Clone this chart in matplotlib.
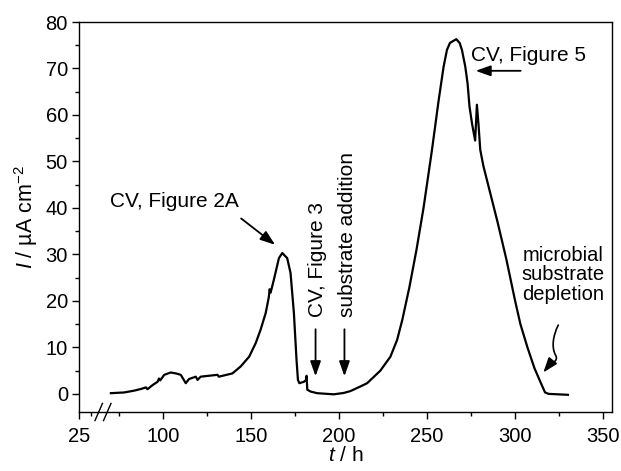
import matplotlib
matplotlib.use("Agg")
import matplotlib.pyplot as plt
from matplotlib.patches import FancyArrowPatch
from matplotlib.path import Path

plt.rcParams["font.family"] = ["Liberation Sans", "DejaVu Sans"]
plt.rcParams["mathtext.fontset"] = "custom"
plt.rcParams["mathtext.rm"] = "Liberation Sans"
plt.rcParams["mathtext.it"] = "Liberation Sans:italic"

# current density vs time
t_h = [70.5, 78, 83.8, 88, 90.4, 91.3, 94.2, 97, 97.8, 98.5, 100.8, 104.5, 107.4,
       110.2, 113, 114.9, 118.7, 119.7, 121.5, 131, 131.8, 139.5, 144.2, 149,
       152.7, 155.5, 158.4, 160.2, 160.6, 161.2, 163, 165.9, 167.8, 170.6, 172.5,
       174.4, 175.9, 176.7, 177.5, 180.1, 181.3, 181.6, 182, 183.9, 187.6, 197,
       202.7, 206.5, 212.2, 216, 223.5, 229.2, 233, 236, 240, 244, 248, 252.8,
       256.6, 259.4, 261.3, 263, 266.6, 268.5, 269.8, 271.7, 273, 274.1, 275.6,
       277.3, 278.3, 279.2, 280.2, 282, 286, 290, 295, 300, 303, 307, 311, 315,
       317, 319, 330]
current = [0.15, 0.3, 0.7, 1.1, 1.4, 1.0, 1.9, 2.6, 3.3, 2.9, 4.1, 4.6, 4.4,
           4.1, 2.3, 3.2, 3.7, 3.0, 3.7, 4.1, 3.7, 4.4, 5.9, 8.0,
           10.9, 13.8, 17.4, 20.9, 22.5, 21.8, 24.5, 29.2, 30.3, 29.2, 26.0,
           17.4, 7.3, 3.0, 2.3, 2.6, 3.0, 3.9, 0.9, 0.5, 0.15, -0.1,
           0.2, 0.6, 1.6, 2.3, 5.0, 8.0, 11.6, 16, 23, 31, 40, 52.5,
           63.2, 70.4, 74, 75.5, 76.3, 75.5, 74, 70.4, 66.8, 61.8, 58,
           54.5, 62.2, 58, 52.5, 49, 43, 37, 29, 20, 15, 10, 5.5, 2,
           0.3, 0.0, -0.2]

# broken axis: the left end is labelled 25
x_ticks = [52.4, 100, 150, 200, 250, 300, 350]
x_labels = ["25", "100", "150", "200", "250", "300", "350"]
x_minor = [59.2, 75, 125, 175, 225, 275, 325]
y_ticks = [0, 10, 20, 30, 40, 50, 60, 70, 80]

fig = plt.figure(figsize=(6.21, 4.71), dpi=100)
ax = fig.add_axes([79 / 621, 59 / 471, 533 / 621, 390 / 471])

ax.plot(t_h, current, color="black", lw=1.6)

ax.set_xlim(52.4, 355)
ax.set_ylim(-3.9, 80)
ax.set_xticks(x_ticks)
ax.set_xticklabels(x_labels)
ax.set_xticks(x_minor, minor=True)
ax.set_yticks(y_ticks)
ax.set_yticks(range(5, 80, 10), minor=True)
ax.tick_params(which="both", direction="out", labelsize=14.5, width=1, top=False, right=False)
ax.tick_params(which="major", length=5, pad=3)
ax.tick_params(which="minor", length=3)
ax.tick_params(axis="x", which="major", pad=6)
for s in ax.spines.values():
    s.set_linewidth(1)

ax.set_xlabel("$t$ / h", fontsize=15, labelpad=0)
ax.set_ylabel("$I$ / µA cm$^{-2}$", fontsize=15.5, labelpad=4)

# axis break marks
for xs in (0.030, 0.046):
    ax.plot([xs, xs + 0.014], [-0.022, 0.022], transform=ax.transAxes,
            color="black", lw=1, clip_on=False)

head = "-|>,head_length=0.9,head_width=0.32"
arrow_kw = dict(arrowstyle=head, color="black", lw=1.3)
fs = 15

ax.annotate("", xy=(165, 31.7), xytext=(143.2, 38.1), arrowprops=arrow_kw)
ax.text(70.0, 41.4, "CV, Figure 2A", fontsize=fs, ha="left", va="center")

ax.annotate("", xy=(186.7, 3.2), xytext=(186.7, 14.5), arrowprops=arrow_kw)
ax.text(187.8, 16.6, "CV, Figure 3", fontsize=fs, rotation=90, ha="center", va="bottom")

ax.annotate("", xy=(203.1, 3.2), xytext=(203.1, 14.5), arrowprops=arrow_kw)
ax.text(204.8, 16.6, "substrate addition", fontsize=fs, rotation=90, ha="center", va="bottom")

ax.annotate("", xy=(276, 69.5), xytext=(304.7, 69.5), arrowprops=arrow_kw)
ax.text(274.9, 72.9, "CV, Figure 5", fontsize=fs, ha="left", va="center")

ax.text(327, 19.3, "microbial\nsubstrate\ndepletion", fontsize=14.5, ha="center",
        va="bottom", multialignment="center", linespacing=1.05)

# wavy arrow to the depletion point
squiggle = Path([(324.5, 14.8), (321.5, 12.5), (320.5, 10.0), (323.0, 8.3),
                 (325.0, 7.0), (320.0, 6.5), (316.0, 4.6)],
                [Path.MOVETO, Path.CURVE4, Path.CURVE4, Path.CURVE4,
                 Path.CURVE4, Path.CURVE4, Path.CURVE4])
ax.add_patch(FancyArrowPatch(path=squiggle, arrowstyle=head, mutation_scale=10,
                             color="black", lw=1.2, transform=ax.transData))

fig.savefig("out.png", dpi=100)
